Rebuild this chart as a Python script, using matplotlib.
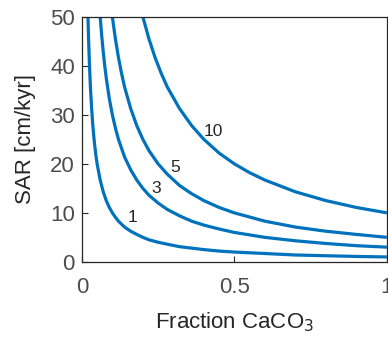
import matplotlib
matplotlib.use("Agg")
import matplotlib.pyplot as plt

plt.rcParams['font.family'] = ['Liberation Sans', 'DejaVu Sans']

# values (SAR vs. fraction CaCO3, one curve per label)
x_1 = [0.02, 0.022, 0.025, 0.028, 0.032, 0.036, 0.04, 0.045, 0.05, 0.06, 0.07, 0.08,
       0.09, 0.1, 0.11, 0.12, 0.14, 0.16, 0.18, 0.2, 0.22, 0.25, 0.28, 0.32, 0.36,
       0.4, 0.45, 0.5, 0.6, 0.7, 0.8, 0.9, 1.0]
y_1 = [50, 45.5, 40, 35.7, 31.3, 27.8, 25, 22.2, 20, 16.7, 14.3, 12.5,
       11.1, 10, 9.1, 8.3, 7.1, 6.25, 5.6, 5, 4.5, 4, 3.6, 3.1, 2.8,
       2.5, 2.2, 2, 1.7, 1.4, 1.25, 1.1, 1.0]

x_3 = [0.06, 0.065, 0.07, 0.075, 0.08, 0.09, 0.1, 0.11, 0.12, 0.14, 0.16, 0.18,
       0.2, 0.22, 0.25, 0.28, 0.32, 0.36, 0.4, 0.45, 0.5, 0.6, 0.7, 0.8, 0.9, 1.0]
y_3 = [50, 46.2, 42.9, 40, 37.5, 33.3, 30, 27.3, 25, 21.4, 18.8, 16.7,
       15, 13.6, 12, 10.7, 9.4, 8.3, 7.5, 6.7, 6, 5, 4.3, 3.75, 3.3, 3]

x_5 = [0.1, 0.11, 0.12, 0.13, 0.14, 0.16, 0.18, 0.2, 0.22, 0.25, 0.28, 0.32,
       0.36, 0.4, 0.45, 0.5, 0.6, 0.7, 0.8, 0.9, 1.0]
y_5 = [50, 45.5, 41.7, 38.5, 35.7, 31.3, 27.8, 25, 22.7, 20, 17.9, 15.6,
       13.9, 12.5, 11.1, 10, 8.3, 7.1, 6.25, 5.6, 5]

x_10 = [0.2, 0.22, 0.24, 0.26, 0.28, 0.32, 0.36, 0.4, 0.45, 0.5, 0.55, 0.6,
        0.7, 0.8, 0.9, 1.0]
y_10 = [50, 45.5, 41.7, 38.5, 35.7, 31.3, 27.8, 25, 22.2, 20, 18.2, 16.7,
        14.3, 12.5, 11.1, 10]

labels = ["1", "3", "5", "10"]
label_x = [0.165, 0.245, 0.305, 0.43]
label_y = [9.0, 15.0, 19.2, 26.6]

blue = "#0072BD"
tick_col = "#4D4D4D"

fig = plt.figure(figsize=(3.88, 3.37), dpi=100)
ax = fig.add_axes([0.211, 0.223, 0.786, 0.727])

for xs, ys in [(x_1, y_1), (x_3, y_3), (x_5, y_5), (x_10, y_10)]:
    ax.plot(xs, ys, color=blue, lw=2.3, solid_capstyle='butt')

for t, tx, ty in zip(labels, label_x, label_y):
    ax.text(tx, ty, t, fontsize=12.5, color="#262626", ha='center', va='center')

ax.set_xlim(0, 1)
ax.set_ylim(0, 50)
ax.set_xticks([0, 0.5, 1])
ax.set_xticklabels(["0", "0.5", "1"])
ax.set_yticks([0, 10, 20, 30, 40, 50])
ax.tick_params(direction='in', length=4, width=0.8, colors="#262626",
               labelcolor=tick_col, labelsize=16)
ax.tick_params(axis='x', pad=11)
ax.tick_params(axis='y', pad=5)
for s in ax.spines.values():
    s.set_color("#262626")
    s.set_linewidth(0.9)

ax.set_xlabel("Fraction CaCO$_3$", fontsize=16, color="#262626", labelpad=9)
ax.set_ylabel("SAR [cm/kyr]", fontsize=16, color="#262626", labelpad=10)

fig.savefig("out.png", dpi=100)
